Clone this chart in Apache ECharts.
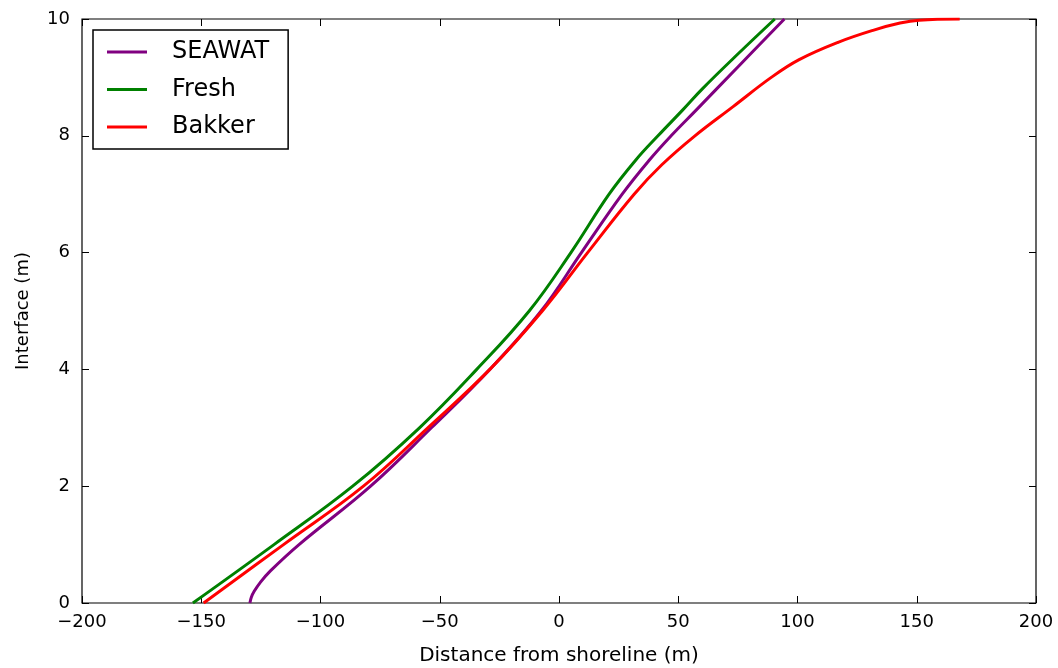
<!DOCTYPE html>
<html><head><meta charset="utf-8">
<script src="https://cdn.jsdelivr.net/npm/echarts@6/dist/echarts.min.js"></script>
<style>html,body{margin:0;padding:0;background:#fff}#c{width:1058px;height:668px}</style>
</head><body><div id="c"></div>
<script>
const seawatX = [-129.6, -129, -127.8, -125.3, -121, -109, -79, -53.5, -29, -7.5, 9.4, 26.5, 38, 47, 57.5, 75.5, 94.5];
const seawatY = [0, 0.1, 0.2, 0.35, 0.55, 1, 2, 3, 4, 5, 6, 7, 7.59, 8, 8.44, 9.2, 10];
const freshX = [-153.5, -119.5, -86.5, -58.5, -34.5, -12.5, 5, 21, 32.3, 41.5, 51.8, 60, 75, 90.5];
const freshY = [0, 1, 2, 3, 4, 5, 6, 7, 7.59, 8, 8.44, 8.8, 9.4, 10];
const bakkerX = [-149, -115.5, -82, -55, -29, -7, 12, 31.5, 43, 57, 73, 89, 100.5, 117, 132, 143, 151, 168];
const bakkerY = [0, 1, 2, 3, 4, 5, 6, 7, 7.5, 8, 8.5, 9, 9.3, 9.6, 9.81, 9.93, 9.98, 10];
const seriesNames = ['SEAWAT', 'Fresh', 'Bakker'];
const xTicks = [-200, -150, -100, -50, 0, 50, 100, 150, 200];
const yTicks = [0, 2, 4, 6, 8, 10];

const zip = (a, b) => a.map((v, i) => [v, b[i]]);
const fmt = v => String(v).replace('-', '\u2212');
const font = 'DejaVu Sans';
const tickCommon = {inside: true, length: 7, lineStyle: {color: '#000', width: 1}};
const hiddenLine = {show: false, onZero: false};

const chart = echarts.init(document.getElementById('c'), null, {renderer: 'canvas'});
chart.setOption({
  animation: false,
  backgroundColor: '#fff',
  grid: {left: 82, right: 22, top: 19, bottom: 65, containLabel: false, outerBoundsMode: 'none',
         show: true, borderColor: '#000', borderWidth: 1.2, backgroundColor: 'transparent'},
  legend: {
    left: 93, top: 30, orient: 'vertical',
    data: seriesNames,
    icon: 'rect', itemWidth: 40, itemHeight: 3, itemGap: 13.5,
    padding: [10, 19, 10, 14],
    borderColor: '#000', borderWidth: 1.5, borderRadius: 0,
    textStyle: {fontFamily: font, fontSize: 24, color: '#000', padding: [0, 0, 0, 20], lineHeight: 24}
  },
  xAxis: [
    {type: 'value', min: xTicks[0], max: xTicks[xTicks.length - 1], interval: 50, position: 'bottom',
     axisLine: hiddenLine, axisTick: tickCommon, splitLine: {show: false},
     axisLabel: {fontFamily: font, fontSize: 18, color: '#000', margin: 10, formatter: fmt},
     name: 'Distance from shoreline (m)', nameLocation: 'middle', nameGap: 43,
     nameTextStyle: {fontFamily: font, fontSize: 20, color: '#000'}},
    {type: 'value', min: xTicks[0], max: xTicks[xTicks.length - 1], interval: 50, position: 'top',
     axisLine: hiddenLine, axisTick: tickCommon, splitLine: {show: false}, axisLabel: {show: false}}
  ],
  yAxis: [
    {type: 'value', min: yTicks[0], max: yTicks[yTicks.length - 1], interval: 2, position: 'left',
     axisLine: hiddenLine, axisTick: tickCommon, splitLine: {show: false},
     axisLabel: {fontFamily: font, fontSize: 18, color: '#000', margin: 12, formatter: fmt},
     name: 'Interface (m)', nameLocation: 'middle', nameGap: 50,
     nameTextStyle: {fontFamily: font, fontSize: 18, color: '#000'}},
    {type: 'value', min: yTicks[0], max: yTicks[yTicks.length - 1], interval: 2, position: 'right',
     axisLine: hiddenLine, axisTick: tickCommon, splitLine: {show: false}, axisLabel: {show: false}}
  ],
  series: [
    {name: seriesNames[0], type: 'line', data: zip(seawatX, seawatY), showSymbol: false, symbol: 'none',
     smooth: 0.4, lineStyle: {color: '#800080', width: 3}, itemStyle: {color: '#800080'}, z: 2},
    {name: seriesNames[1], type: 'line', data: zip(freshX, freshY), showSymbol: false, symbol: 'none',
     smooth: 0.4, lineStyle: {color: '#008000', width: 3}, itemStyle: {color: '#008000'}, z: 3},
    {name: seriesNames[2], type: 'line', data: zip(bakkerX, bakkerY), showSymbol: false, symbol: 'none',
     smooth: 0.4, lineStyle: {color: '#ff0000', width: 3}, itemStyle: {color: '#ff0000'}, z: 4}
  ]
});
</script></body></html>
